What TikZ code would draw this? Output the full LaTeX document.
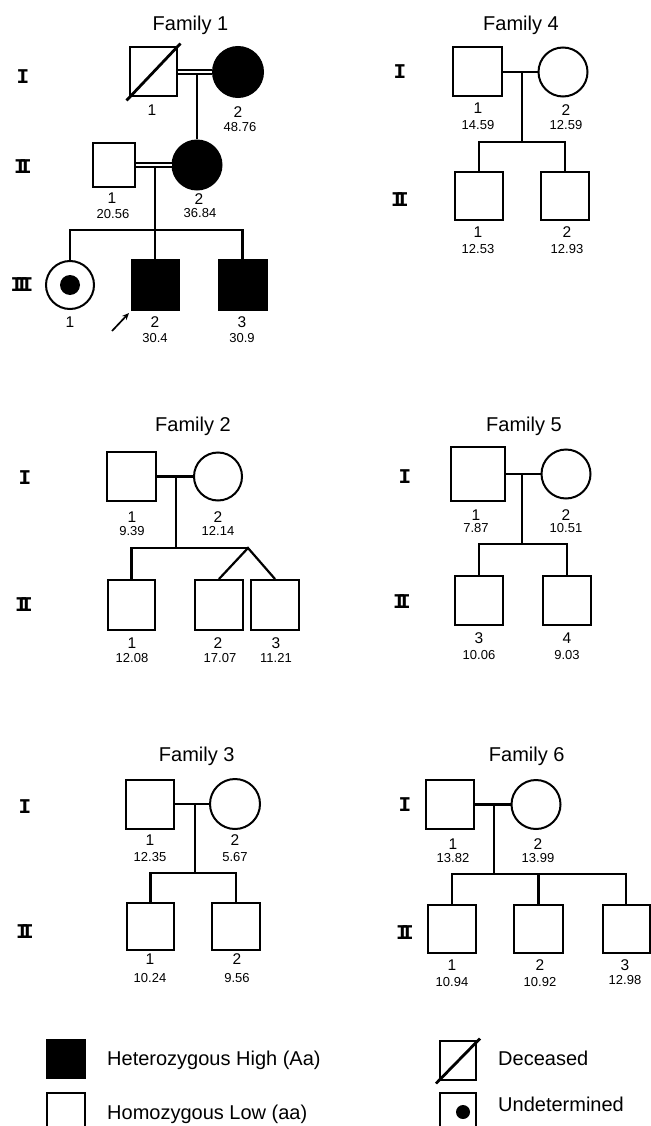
\documentclass[tikz,border=0pt]{standalone}
\usepackage{fontspec}
\setmainfont{Liberation Sans}
\newfontfamily\romanfont{Liberation Mono}
\usetikzlibrary{calc,arrows.meta}

% generation numerals with touching serifs
\newcommand\gI{I}
\newcommand\gII{I\kern-0.36em I}
\newcommand\gIII{I\kern-0.36em I\kern-0.36em I}

\begin{document}
\begin{tikzpicture}[x=1pt,y=-1pt,
  ind/.style={draw, line width=2pt, inner sep=0pt},
  male/.style={ind, rectangle, minimum width=48pt, minimum height=49pt},
  female/.style={ind, circle, minimum size=49pt},
  aff/.style={fill=black},
  dot/.style={circle, fill=black, inner sep=0pt},
  idxl/.style={font=\fontsize{15.5}{15.5}\selectfont, inner sep=0pt},
  vall/.style={font=\fontsize{13}{13}\selectfont, inner sep=0pt},
  gen/.style={font=\romanfont\bfseries\fontsize{21}{21}\selectfont, inner sep=0pt},
  famtitle/.style={font=\fontsize{20}{20}\selectfont, anchor=base, inner sep=0pt},
  link/.style={line width=2.2pt},
  consang/.style={double, line width=1.5pt, double distance=2.6pt},
  deadline/.style={line width=2.8pt},
  legbox/.style={draw, line width=2pt, inner sep=0pt, minimum width=38pt, minimum height=38pt},
  legtext/.style={font=\fontsize{20}{20}\selectfont, anchor=base west, inner sep=0pt}
]
\useasboundingbox[fill=white] (0,0) rectangle (650,1126);

% ---------------- Family 1 ----------------
\node[famtitle] (t1) at (190.5,30.5) {Family 1};
\node[gen] (f1g1) at (23,77) {\gI};
\node[gen] (f1g2) at (23,167) {\gII};
\node[gen] (f1g3) at (22,285) {\gIII};

\node[male, minimum width=47pt] (f1a) at (153,72) {};
\node[female, aff, minimum size=50pt] (f1b) at (238,72) {};
\draw[deadline] ($(f1a.south west)+(-2,3)$) -- ($(f1a.north east)+(3,-3)$);
\coordinate (f1m1) at (197,72);
\node[male, minimum width=42pt, minimum height=44pt] (f1c) at (114,165) {};
\node[female, aff] (f1d) at (197,165) {};
\draw[link] (f1m1) -- (f1d.north);
\draw[consang] (f1a.east) -- (f1b.west);

\coordinate (f1m2) at (155,165);
\coordinate (f1s) at (155,230);
\node[female, minimum size=48pt] (f1e) at (70,285) {};
\node[dot, minimum size=20pt] (f1e-dot) at (f1e) {};
\node[male, aff, minimum width=47pt, minimum height=50pt] (f1f) at (155,285) {};
\node[male, aff, minimum height=50pt] (f1g) at (242.5,285) {};
\draw[link] (f1m2) -- (f1s) -- (f1f.north);
\draw[link] (f1e.north) -- (f1e.north |- f1s) -- (f1g.north |- f1s) -- (f1g.north);
\draw[consang] (f1c.east) -- (f1d.west);
\coordinate (f1arr) at (112,331);
\draw[line width=1.7pt, -{Stealth[length=7pt,width=6pt]}] (f1arr) -- ($(f1f.south west)+(-1.5,2)$);

\node[idxl] (f1a-i) at (152,110) {1};
\node[idxl] (f1b-i) at (238,112) {2};
\node[vall] (f1b-v) at (240,127) {48.76};
\node[idxl] (f1c-i) at (112,198) {1};
\node[vall] (f1c-v) at (113,214) {20.56};
\node[idxl] (f1d-i) at (199,199) {2};
\node[vall] (f1d-v) at (200,213) {36.84};
\node[idxl] (f1e-i) at (70,322) {1};
\node[idxl] (f1f-i) at (155,322) {2};
\node[vall] (f1f-v) at (155,338) {30.4};
\node[idxl] (f1g-i) at (242,322) {3};
\node[vall] (f1g-v) at (242,338) {30.9};

% ---------------- Family 4 ----------------
\node[famtitle] (t4) at (521,30.5) {Family 4};
\node[gen] (f4g1) at (400,72) {\gI};
\node[gen] (f4g2) at (400,200) {\gII};

\node[male, minimum width=49pt] (f4a) at (477.5,72) {};
\node[female] (f4b) at (563,72) {};
\draw[link] (f4a.east) -- (f4b.west);
\coordinate (f4m) at (522,72);
\coordinate (f4s) at (522,142);
\node[male, minimum height=48pt] (f4c) at (479,196) {};
\node[male, minimum height=48pt] (f4d) at (565,196) {};
\draw[link] (f4m) -- (f4s);
\draw[link] (f4c.north) -- (f4c.north |- f4s) -- (f4d.north |- f4s) -- (f4d.north);

\node[idxl] (f4a-i) at (478,108) {1};
\node[vall] (f4a-v) at (478,125) {14.59};
\node[idxl] (f4b-i) at (566,110) {2};
\node[vall] (f4b-v) at (566,125) {12.59};
\node[idxl] (f4c-i) at (478,232) {1};
\node[vall] (f4c-v) at (478,249) {12.53};
\node[idxl] (f4d-i) at (567,232) {2};
\node[vall] (f4d-v) at (567,249) {12.93};

% ---------------- Family 2 ----------------
\node[famtitle] (t2) at (193,431.7) {Family 2};
\node[gen] (f2g1) at (25,478) {\gI};
\node[gen] (f2g2) at (24,605) {\gII};

\node[male, minimum width=49pt] (f2a) at (131.5,476.5) {};
\node[female, minimum size=48pt] (f2b) at (218,476.5) {};
\draw[link] (f2a.east) -- (f2b.west);
\coordinate (f2m) at (176,476.5);
\coordinate (f2s) at (176,548);
\coordinate (f2tw) at (248,548);
\node[male, minimum width=47pt, minimum height=50pt] (f2c) at (131.5,605) {};
\node[male, minimum height=50pt] (f2d) at (219,605) {};
\node[male, minimum height=50pt] (f2e) at (275,605) {};
\draw[link] (f2m) -- (f2s);
\draw[link] (f2c.north) -- (f2c.north |- f2s) -- (f2tw);
\draw[link] (f2d.north) -- (f2tw) -- (f2e.north);

\node[idxl] (f2a-i) at (132,517) {1};
\node[vall] (f2a-v) at (132,531) {9.39};
\node[idxl] (f2b-i) at (218,517) {2};
\node[vall] (f2b-v) at (218,531) {12.14};
\node[idxl] (f2c-i) at (132,643) {1};
\node[vall] (f2c-v) at (132,658) {12.08};
\node[idxl] (f2d-i) at (218,643) {2};
\node[vall] (f2d-v) at (220,658) {17.07};
\node[idxl] (f2e-i) at (276,643) {3};
\node[vall] (f2e-v) at (276,658) {11.21};

% ---------------- Family 5 ----------------
\node[famtitle] (t5) at (524,431.7) {Family 5};
\node[gen] (f5g1) at (405,477) {\gI};
\node[gen] (f5g2) at (402,602) {\gII};

\node[male, minimum width=54pt, minimum height=54pt] (f5a) at (478,474) {};
\node[female] (f5b) at (566,474) {};
\draw[link] (f5a.east) -- (f5b.west);
\coordinate (f5m) at (522,474);
\coordinate (f5s) at (522,544);
\node[male] (f5c) at (479,600.5) {};
\node[male] (f5d) at (567,600.5) {};
\draw[link] (f5m) -- (f5s);
\draw[link] (f5c.north) -- (f5c.north |- f5s) -- (f5d.north |- f5s) -- (f5d.north);

\node[idxl] (f5a-i) at (476,515) {1};
\node[vall] (f5a-v) at (476,528) {7.87};
\node[idxl] (f5b-i) at (566,515) {2};
\node[vall] (f5b-v) at (566,528) {10.51};
\node[idxl] (f5c-i) at (479,638) {3};
\node[vall] (f5c-v) at (479,655) {10.06};
\node[idxl] (f5d-i) at (567,638) {4};
\node[vall] (f5d-v) at (567,655) {9.03};

% ---------------- Family 3 ----------------
\node[famtitle] (t3) at (196.7,761.7) {Family 3};
\node[gen] (f3g1) at (25,807) {\gI};
\node[gen] (f3g2) at (25,932) {\gII};

\node[male] (f3a) at (150,804) {};
\node[female, minimum size=50pt] (f3b) at (235,804) {};
\draw[link] (f3a.east) -- (f3b.west);
\coordinate (f3m) at (195,804);
\coordinate (f3s) at (195,873);
\node[male, minimum width=47pt, minimum height=47pt] (f3c) at (150.5,926.5) {};
\node[male, minimum height=47pt] (f3d) at (236,926.5) {};
\draw[link] (f3m) -- (f3s);
\draw[link] (f3c.north) -- (f3c.north |- f3s) -- (f3d.north |- f3s) -- (f3d.north);

\node[idxl] (f3a-i) at (150,840) {1};
\node[vall] (f3a-v) at (150,857) {12.35};
\node[idxl] (f3b-i) at (235,840) {2};
\node[vall] (f3b-v) at (235,857) {5.67};
\node[idxl] (f3c-i) at (150,959) {1};
\node[vall] (f3c-v) at (150,978) {10.24};
\node[idxl] (f3d-i) at (237,959) {2};
\node[vall] (f3d-v) at (237,978) {9.56};

% ---------------- Family 6 ----------------
\node[famtitle] (t6) at (526.7,761.7) {Family 6};
\node[gen] (f6g1) at (405,805) {\gI};
\node[gen] (f6g2) at (405,933) {\gII};

\node[male] (f6a) at (450,804.5) {};
\node[female] (f6b) at (536,804.5) {};
\draw[link] (f6a.east) -- (f6b.west);
\coordinate (f6m) at (494,804.5);
\coordinate (f6s) at (494,874);
\node[male, minimum height=48pt] (f6c) at (452,929) {};
\node[male, minimum width=49pt, minimum height=48pt] (f6d) at (538.5,929) {};
\node[male, minimum width=47pt, minimum height=48pt] (f6e) at (626,929) {};
\draw[link] (f6m) -- (f6s);
\draw[link] (f6c.north) -- (f6c.north |- f6s) -- (f6e.north |- f6s) -- (f6e.north);
\draw[link] (f6d.north |- f6s) -- (f6d.north);

\node[idxl] (f6a-i) at (453,844) {1};
\node[vall] (f6a-v) at (453,858) {13.82};
\node[idxl] (f6b-i) at (538,844) {2};
\node[vall] (f6b-v) at (538,858) {13.99};
\node[idxl] (f6c-i) at (452,965) {1};
\node[vall] (f6c-v) at (452,982) {10.94};
\node[idxl] (f6d-i) at (540,965) {2};
\node[vall] (f6d-v) at (540,982) {10.92};
\node[idxl] (f6e-i) at (625,965) {3};
\node[vall] (f6e-v) at (625,980) {12.98};

% ---------------- Legend ----------------
\node[legbox, fill=black] (l1) at (66,1059) {};
\node[legtext] (l1t) at (107,1065) {Heterozygous High (Aa)};
\node[legbox] (l2) at (66,1112) {};
\node[legtext] (l2t) at (107,1119) {Homozygous Low (aa)};
\node[legbox, minimum width=36pt, minimum height=39pt] (l3) at (458,1060) {};
\draw[deadline] ($(l3.south west)+(-3,3)$) -- ($(l3.north east)+(3,-1)$);
\node[legtext] (l3t) at (498,1065) {Deceased};
\node[legbox, minimum width=36pt, minimum height=39pt] (l4) at (458,1112.5) {};
\node[dot, minimum size=14pt] (l4d) at (463,1112) {};
\node[legtext] (l4t) at (498,1111) {Undetermined};
\end{tikzpicture}
\end{document}
